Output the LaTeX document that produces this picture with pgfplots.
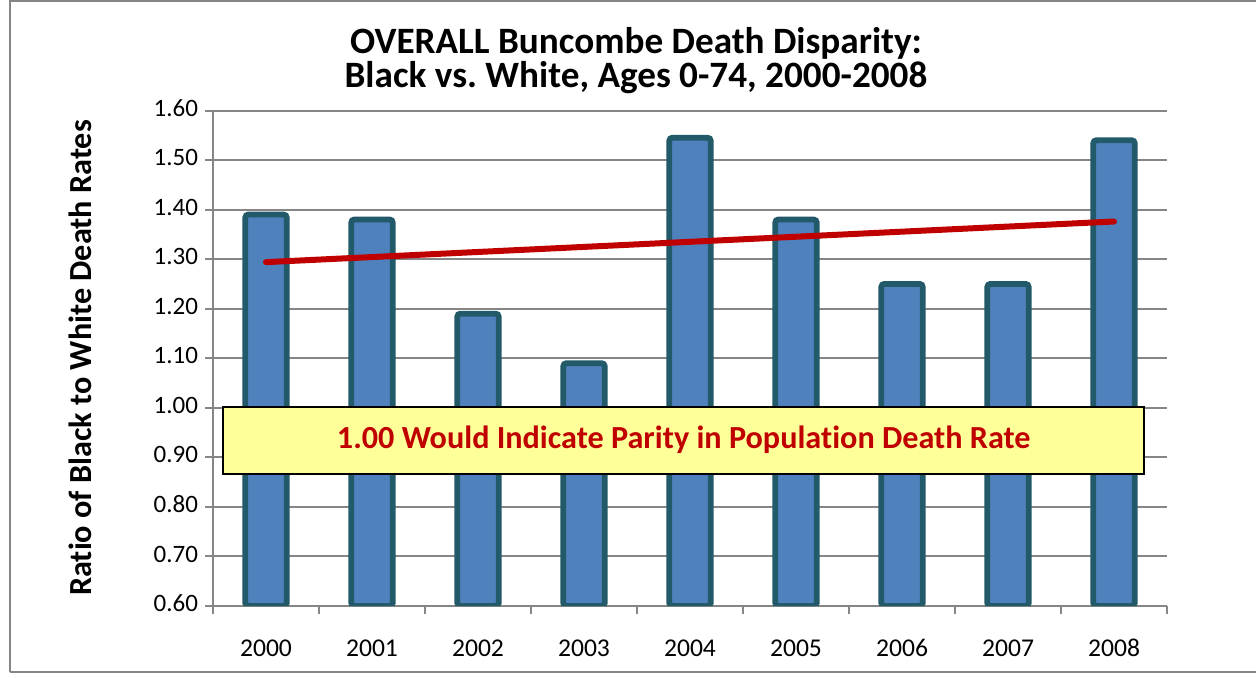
\documentclass[border=0pt]{standalone}
\usepackage{fontspec}
\setmainfont{Carlito}[Ligatures={NoCommon}]
\usepackage{pgfplots}
\pgfplotsset{compat=1.18}
\definecolor{axgray}{HTML}{868686}
\definecolor{barfill}{HTML}{4F81BD}
\definecolor{baredge}{HTML}{235A69}
\definecolor{trendred}{HTML}{C00000}
\definecolor{boxyellow}{HTML}{FFFF99}
\begin{document}
\begin{tikzpicture}[x=1pt,y=1pt]
\useasboundingbox (0,0) rectangle (628,338.5);
\fill[white] (0,0) rectangle (628,338.5);
\draw[axgray, line width=1pt] (5,2.75) -- (5,338) -- (640,338) (5,2.75) -- (640,2.75);
\node[anchor=base, font=\fontsize{18.6}{21}\selectfont\bfseries] at (318,312) {OVERALL Buncombe Death Disparity:};
\node[anchor=base, font=\fontsize{18.6}{21}\selectfont\bfseries] at (318,295) {Black vs.\ White, Ages 0-74, 2000-2008};
\node[rotate=90, font=\fontsize{16.1}{18}\selectfont\bfseries] at (40,159.5) {Ratio of Black to White Death Rates};
\begin{axis}[
  at={(106.5pt,35.5pt)}, anchor=south west,
  scale only axis, width=477pt, height=247.75pt,
  xmin=-0.5, xmax=8.5, ymin=0.6, ymax=1.6,
  axis x line*=bottom, axis y line*=left,
  x axis line style={-, axgray, line width=1pt},
  y axis line style={-, axgray, line width=1pt},
  xtick={0,1,2,3,4,5,6,7,8},
  xticklabels={2000,2001,2002,2003,2004,2005,2006,2007,2008},
  minor xtick={-0.5,0.5,1.5,2.5,3.5,4.5,5.5,6.5,7.5,8.5},
  ytick={0.6,0.7,0.8,0.9,1.0,1.1,1.2,1.3,1.4,1.5,1.6},
  tick align=outside,
  major tick length=4pt, minor tick length=4pt,
  major x tick style={draw=none},
  minor x tick style={axgray, line width=1pt},
  ytick style={axgray, line width=1pt},
  ymajorgrids, major grid style={axgray, line width=1pt},
  /pgf/number format/assume math mode=true,
  typeset ticklabels with strut,
  yticklabel style={font=\fontsize{12.5}{14}\selectfont, /pgf/number format/fixed, /pgf/number format/fixed zerofill, /pgf/number format/precision=2},
  xticklabel style={font=\fontsize{12.8}{14}\selectfont, yshift=-8pt},
  clip mode=individual,
]
\addplot[ybar, bar width=0.39, bar shift=0pt, fill=barfill, draw=baredge, line width=2.9pt, rounded corners=1.5pt]
  coordinates {(0,1.39) (1,1.38) (2,1.19) (3,1.09) (4,1.545) (5,1.38) (6,1.25) (7,1.25) (8,1.54)};
\addplot[trendred, line width=3pt, line cap=round] coordinates {(0,1.294) (8,1.376)};
\draw[black, line width=1pt, fill=boxyellow] (axis cs:-0.403,1.002) rectangle (axis cs:8.286,0.866);
\node[font=\fontsize{16.1}{18}\selectfont\bfseries, text=trendred] at (axis cs:3.94,0.935) {1.00 Would Indicate Parity in Population Death Rate};
\end{axis}
\end{tikzpicture}
\end{document}
